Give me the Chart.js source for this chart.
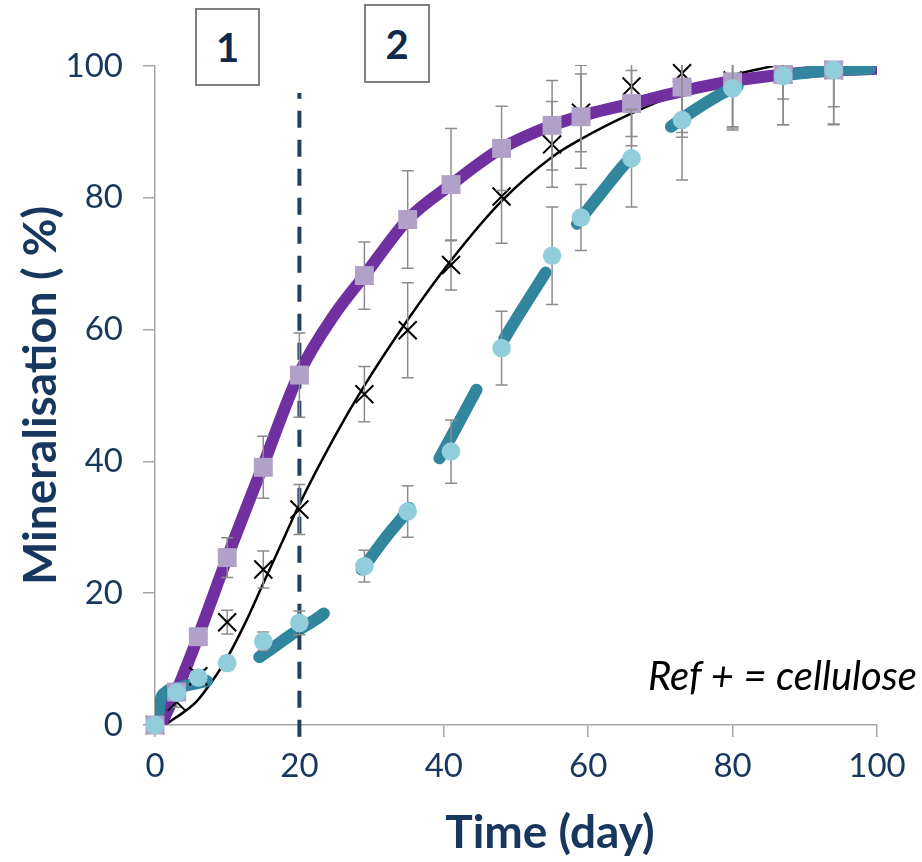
<!DOCTYPE html>
<html>
<head>
<meta charset="utf-8">
<title>Mineralisation</title>
<script src="https://cdn.jsdelivr.net/npm/chart.js@4.4.1/dist/chart.umd.min.js"></script>
<style>
    body { margin: 0; background: #fff; }
    #wrap { position: relative; width: 922px; height: 862px; }
    #chart { position: absolute; left: 0; top: 0; }
    .box {
        position: absolute; box-sizing: border-box;
        border: 2px solid #7f7f7f; background: #fff;
        display: flex; align-items: center; justify-content: center;
        font: bold 40px Lato, sans-serif; color: #10284a;
    }
    .note { position: absolute; font-family: Lato, sans-serif; white-space: nowrap; line-height: 1.2; }
</style>
</head>
<body>
<div id="wrap">
    <canvas id="chart" width="922" height="862"></canvas>
    <div class="box" style="left:195px; top:8px; width:65px; height:78px;">1</div>
    <div class="box" style="left:364px; top:4px; width:66px; height:79px;">2</div>
    <div class="note" style="right:5px; top:651px; font-size:40px; font-style:italic; color:#000;">Ref + = cellulose</div>
    <div class="note" style="left:550px; top:803px; transform:translateX(-50%); font-size:46px; font-weight:bold; color:#17375e;">Time (day)</div>
</div>

<script>
// sampling days (same for the three series)
const days = [0, 3, 6, 10, 15, 20, 29, 35, 41, 48, 55, 59, 66, 73, 80, 87, 94];

// measured mineralisation (%) and error bars
const purpleVals = [0, 5.0, 13.4, 25.4, 39.1, 53.1, 68.2, 76.7, 82.0, 87.5, 91.0, 92.3, 94.3, 96.8, 97.6, 98.7, 99.4];
const purpleErr  = [0, 0.8, 1, 3, 4.7, 6.4, 5.1, 7.4, 8.5, 6.4, 6.8, 7.8, 5, 7.6, 7.3, 7.6, 8.3];

const blackVals = [0, 3.5, 7.4, 15.6, 23.6, 32.7, 50.2, 59.9, 69.8, 80.2, 88.1, 92.9, 96.9, 98.9, 97.8, 98.7, 99.4];
const blackErr  = [0, 0.8, 1, 1.8, 2.8, 3.8, 4.2, 7.2, 3.8, 7.1, 6.5, 5.9, 9, 9, 7, 7.6, 8.2];

const blueVals = [0, 4.9, 7.2, 9.4, 12.7, 15.5, 24.1, 32.4, 41.5, 57.2, 71.2, 77.0, 86.0, 91.8, 96.6, 98.5, 99.4];
const blueErr  = [0, 0.5, 0.5, 1, 1.4, 1.8, 2.4, 3.9, 4.8, 5.6, 7.4, 5, 7.4, 9.1, 6, 3.5, 5.6];

// fitted curves
const purpleFitX = [0.8, 3, 6, 10, 15, 20, 25, 29, 35, 41, 48, 55, 60, 66, 73, 80, 90, 100];
const purpleFitY = [0, 5.2, 13.5, 25.4, 39.5, 53.4, 62.5, 68.2, 76.7, 82, 87.5, 91, 92.7, 94.3, 96.2, 97.7, 99, 99.6];

const blackFitX = [1.3, 3, 5.7, 8, 10, 12.5, 15, 17.5, 20, 25, 29, 35, 41, 48, 55, 59, 66, 73, 80, 85.6];
const blackFitY = [0, 1.2, 3.5, 6.8, 10.2, 15.5, 21.5, 27.5, 33.5, 44, 51.5, 61.5, 70.5, 79.5, 86.2, 88.9, 92.8, 96, 98.6, 100];

const blueFitX = [0.3, 0.7, 1.5, 3, 6, 9, 14, 19, 24, 28, 32, 35.5, 39, 44, 48, 54, 57.5, 62, 66, 70, 75, 80, 86, 92, 99];
const blueFitY = [0, 3.5, 5.0, 5.6, 6.4, 7.2, 10, 13.8, 17.5, 22.7, 28.5, 33.3, 39.7, 49.8, 57.9, 68.5, 74.6, 81, 86.2, 89.6, 93.5, 96.6, 98.3, 99.2, 99.6];

// vertical marker at day 20
const markerDay = 20;
const markerRange = [-1.8, 95.9];

const axisTicks = [0, 20, 40, 60, 80, 100];

const TEXT = "#17375e";
const AXIS = "#a6a6a6";

function toPoints(xs, ys) {
    return xs.map((x, i) => ({ x: x, y: ys[i] }));
}

// error bars drawn just under each marker series
const errorBars = {
    id: "errorBars",
    beforeDatasetDraw(chart, args) {
        const ds = chart.data.datasets[args.index];
        if (!ds.errors) return;
        const { ctx, chartArea, scales } = chart;
        ctx.save();
        ctx.beginPath();
        ctx.rect(chartArea.left - 10, chartArea.top - 1, chartArea.width + 20, chartArea.height + 1);
        ctx.clip();
        ctx.strokeStyle = "#8c8c8c";
        ctx.lineWidth = 1.5;
        ds.data.forEach((p, i) => {
            const e = ds.errors[i];
            if (!e) return;
            const px = scales.x.getPixelForValue(p.x);
            const top = scales.y.getPixelForValue(p.y + e);
            const bot = scales.y.getPixelForValue(p.y - e);
            ctx.beginPath();
            ctx.moveTo(px, top); ctx.lineTo(px, bot);
            ctx.moveTo(px - 6, top); ctx.lineTo(px + 6, top);
            ctx.moveTo(px - 6, bot); ctx.lineTo(px + 6, bot);
            ctx.stroke();
        });
        ctx.restore();
    }
};

function fitLine(xs, ys, color, width, order, extra) {
    return Object.assign({
        type: "line",
        data: toPoints(xs, ys),
        borderColor: color,
        borderWidth: width,
        pointRadius: 0,
        fill: false,
        cubicInterpolationMode: "monotone",
        order: order
    }, extra || {});
}

function markers(vals, errs, style, radius, color, order, extra) {
    return Object.assign({
        type: "scatter",
        data: toPoints(days, vals),
        errors: errs,
        pointStyle: style,
        pointRadius: radius,
        pointBackgroundColor: color,
        pointBorderWidth: 0,
        clip: false,
        order: order
    }, extra || {});
}

new Chart(document.getElementById("chart"), {
    type: "scatter",
    data: {
        datasets: [
            fitLine(blackFitX, blackFitY, "#000000", 2.5, 9),
            fitLine(purpleFitX, purpleFitY, "#7030a0", 12, 8),
            fitLine(blueFitX, blueFitY, "#31859c", 12, 7, { borderDash: [78, 58], borderCapStyle: "round" }),
            {
                type: "line",
                data: markerRange.map(v => ({ x: markerDay, y: v })),
                borderColor: "#243f60",
                borderWidth: 4,
                borderDash: [17, 12],
                pointRadius: 0,
                clip: false,
                order: 6
            },
            markers(blackVals, blackErr, "crossRot", 12.7, "#000", 5,
                { pointBorderColor: "#000", pointBorderWidth: 2 }),
            markers(purpleVals, purpleErr, "rect", 13.4, "#b1a0c7", 4),
            markers(blueVals, blueErr, "circle", 9.3, "#92cddc", 3)
        ]
    },
    options: {
        responsive: false,
        animation: false,
        events: [],
        layout: { padding: { top: 66, right: 45, bottom: 0, left: 0 } },
        plugins: { legend: { display: false }, tooltip: { enabled: false } },
        scales: {
            x: {
                type: "linear", min: 0, max: 100,
                afterBuildTicks: s => { s.ticks = axisTicks.map(v => ({ value: v })); },
                afterFit: s => { s.height = 137; },
                ticks: { padding: 10, color: TEXT, font: { family: "Lato", size: 33 } },
                grid: { drawOnChartArea: false, tickLength: 12, color: AXIS, lineWidth: 1.5 },
                border: { color: AXIS, width: 1.5 }
            },
            y: {
                type: "linear", min: 0, max: 100,
                afterBuildTicks: s => { s.ticks = axisTicks.map(v => ({ value: v })); },
                afterFit: s => { s.width = 155; },
                ticks: { padding: 20, color: TEXT, font: { family: "Lato", size: 33 } },
                grid: { drawOnChartArea: false, tickLength: 12, color: AXIS, lineWidth: 1.5 },
                border: { color: AXIS, width: 1.5 },
                title: {
                    display: true, text: "Mineralisation ( %)", color: TEXT,
                    font: { family: "Lato", size: 46, weight: "bold" },
                    padding: { top: 14, bottom: 0 }
                }
            }
        }
    },
    plugins: [errorBars]
});
</script>
</body>
</html>
